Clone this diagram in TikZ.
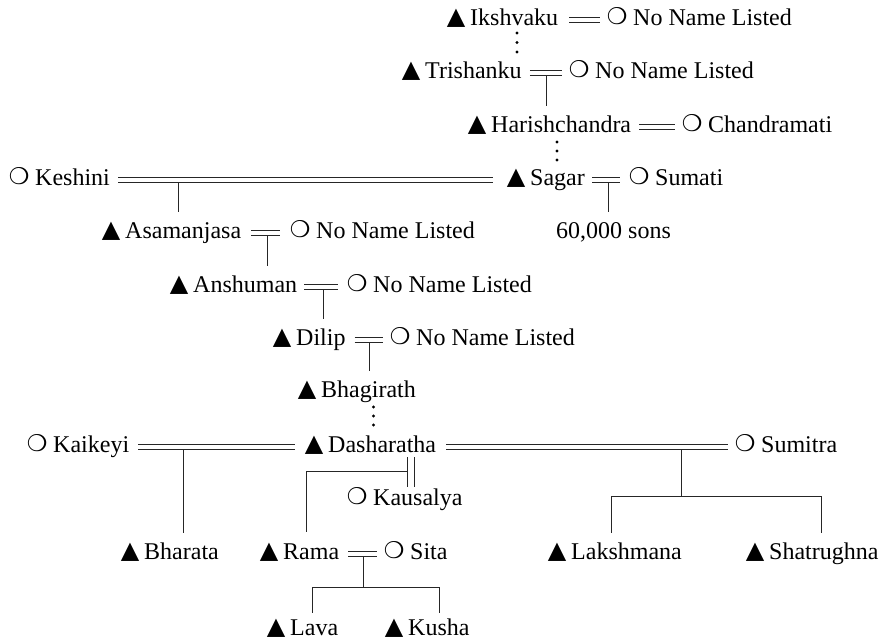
\documentclass[tikz,border=0pt]{standalone}
\usepackage{fontspec}
\setmainfont{Liberation Serif}
\newfontfamily\symf{DejaVu Sans}
\usetikzlibrary{calc}
\newcommand{\tri}{\makebox[18pt][c]{\raisebox{0.6pt}{\fontsize{24}{24}\selectfont\symf ▲}}\hspace{5pt}}
\newcommand{\cir}{\makebox[14pt][c]{\raisebox{0.6pt}{\fontsize{23}{23}\selectfont\symf ❍}}\hspace{9pt}}
% a marriage: two parallel lines from the end of #1 to the start of #2
\newcommand{\marry}[4]{%
  \draw[conn] ([shift={(#3,-8)}]#1.base east) -- ([shift={(-#4,-8)}]#2.base west)
              ([shift={(#3,-3)}]#1.base east) -- ([shift={(-#4,-3)}]#2.base west);}
\begin{document}
\begin{tikzpicture}[x=1pt,y=-1pt,
  person/.style={anchor=base west, inner sep=0pt, font=\fontsize{24}{28}\selectfont},
  conn/.style={line width=0.9pt, draw=black!85},
  drop/.style={conn, shorten >=26pt},
  dotfill/.style={fill=black}]
\useasboundingbox (0,0) rectangle (884,641);

% people
\node[person] (ik)   at (447,25)  {\tri Ikshvaku};
\node[person] (iks)  at (610,25)  {\cir No Name Listed};
\node[person] (tr)   at (402,78)  {\tri Trishanku};
\node[person] (trs)  at (572,78)  {\cir No Name Listed};
\node[person] (ha)   at (468,132) {\tri Harishchandra};
\node[person] (has)  at (685,132) {\cir Chandramati};
\node[person] (ke)   at (12,185)  {\cir Keshini};
\node[person] (sa)   at (507,185) {\tri Sagar};
\node[person] (su)   at (632,185) {\cir Sumati};
\node[person] (as)   at (102,238) {\tri Asamanjasa};
\node[person] (ass)  at (293,238) {\cir No Name Listed};
\node[person] (sons) at (556,238) {60,000 sons};
\node[person] (an)   at (170,292) {\tri Anshuman};
\node[person] (ans)  at (350,292) {\cir No Name Listed};
\node[person] (di)   at (273,345) {\tri Dilip};
\node[person] (dis)  at (393,345) {\cir No Name Listed};
\node[person] (bh)   at (298,397) {\tri Bhagirath};
\node[person] (kai)  at (30,452)  {\cir Kaikeyi};
\node[person] (da)   at (305,452) {\tri Dasharatha};
\node[person] (sum)  at (738,452) {\cir Sumitra};
\node[person] (kau)  at (350,505) {\cir Kausalya};
\node[person] (bha)  at (121,559) {\tri Bharata};
\node[person] (ra)   at (260,559) {\tri Rama};
\node[person] (si)   at (387,559) {\cir Sita};
\node[person] (la)   at (548,559) {\tri Lakshmana};
\node[person] (sh)   at (746,559) {\tri Shatrughna};
\node[person] (lv)   at (267,635) {\tri Lava};
\node[person] (ku)   at (385,635) {\tri Kusha};

% marriages (double lines)
\marry{ik}{iks}{11}{10}
\marry{tr}{trs}{8}{10}
\marry{ha}{has}{8}{10}
\marry{ke}{sa}{8}{14}
\marry{sa}{su}{7}{12}
\marry{as}{ass}{10}{13}
\marry{an}{ans}{7}{12}
\marry{di}{dis}{9}{10}
\marry{kai}{da}{9}{10}
\marry{da}{sum}{10}{10}
\marry{ra}{si}{9}{10}

% junction points on the lower line of each marriage
\coordinate (jtr) at ($(tr.base east)!0.5!(trs.base west)+(0,-3)$);
\coordinate (jke) at (178,182);
\coordinate (jsa) at ($(sa.base east)!0.5!(su.base west)+(0,-3)$);
\coordinate (jas) at ($(as.base east)!0.5!(ass.base west)+(0,-3)$);
\coordinate (jan) at ($(an.base east)!0.5!(ans.base west)+(0,-3)$);
\coordinate (jdi) at ($(di.base east)!0.5!(dis.base west)+(0,-3)$);
\coordinate (jkai) at (183,449);
\coordinate (jsum) at (681,449);
\coordinate (jra) at ($(ra.base east)!0.5!(si.base west)+(0,-3)$);

% descent lines
\draw[drop] (jtr) -- (jtr |- ha.base);
\draw[drop] (jke) -- (jke |- as.base);
\draw[drop] (jsa) -- (jsa |- sons.base);
\draw[drop] (jas) -- (jas |- an.base);
\draw[drop] (jan) -- (jan |- di.base);
\draw[drop] (jdi) -- (jdi |- bh.base);
\draw[drop] (jkai) -- (jkai |- bha.base);

% Dasharatha & Kausalya
\coordinate (kvl) at (407,457);
\coordinate (kvr) at (414,457);
\draw[conn, shorten >=18pt] (kvl) -- (kvl |- kau.base);
\draw[conn, shorten >=18pt] (kvr) -- (kvr |- kau.base);
\coordinate (rj) at (306.5,471);
\draw[conn, shorten >=27pt] (kvl |- rj) -- (rj) -- (rj |- ra.base);

% Sumitra's sons
\coordinate (sb) at (681,496);
\coordinate (sbl) at (611,496);
\coordinate (sbr) at (821,496);
\draw[conn] (jsum) -- (sb);
\draw[conn] (sbl) -- (sbr);
\draw[drop] (sbl) -- (sbl |- la.base);
\draw[drop] (sbr) -- (sbr |- sh.base);

% Rama & Sita's sons
\coordinate (rb) at (jra |- 0,587);
\coordinate (rbl) at (312,587);
\coordinate (rbr) at (439,587);
\draw[conn] (jra) -- (rb);
\draw[conn] (rbl) -- (rbr);
\draw[conn, shorten >=22pt] (rbl) -- (rbl |- lv.base);
\draw[conn, shorten >=22pt] (rbr) -- (rbr |- ku.base);

% ellipses (generations omitted)
\foreach \yy in {33,42.5,52} \fill[dotfill] (517,\yy) circle (1.7);
\foreach \yy in {142,151,160} \fill[dotfill] (557,\yy) circle (1.7);
\foreach \yy in {407,416,425} \fill[dotfill] (373.5,\yy) circle (1.7);
\end{tikzpicture}
\end{document}
